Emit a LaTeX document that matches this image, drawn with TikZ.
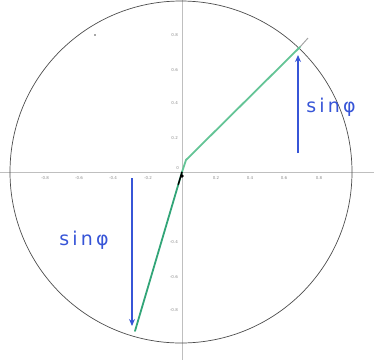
\documentclass[tikz,border=0pt]{standalone}
\usetikzlibrary{arrows.meta,calc}
\usepackage{fontspec}
\setsansfont{DejaVu Sans}
\definecolor{mint}{RGB}{100,196,150}
\definecolor{mintdark}{RGB}{50,165,120}
\definecolor{pen}{RGB}{55,85,215}
\begin{document}
\begin{tikzpicture}[x=1pt,y=-1pt,
  axis/.style={draw=black!25, line width=0.6pt},
  tick/.style={text=black!45, font=\fontsize{4}{4}\selectfont\sffamily, inner sep=0pt},
  vec/.style={draw=mint, line width=1.8pt, line cap=round},
  hand/.style={draw=pen, line width=1.3pt, -{Stealth[length=7pt,width=6pt]}},
  handtext/.style={text=pen, font=\fontsize{19}{19}\selectfont\sffamily, inner sep=0pt}]
\useasboundingbox (0,0) rectangle (374,360);
\coordinate (O) at (182,172);
\coordinate (xl) at (0,172); \coordinate (xr) at (374,172);
\coordinate (yt) at (182,0); \coordinate (yb) at (182,360);
\draw[axis] (xl) -- (xr);
\draw[axis] (yt) -- (yb);
% circle
\draw[black!70, line width=0.7pt] (181,172) circle[radius=171pt];
% tick labels
\foreach \x/\l in {45/-0.8,79/-0.6,113/-0.4,148/-0.2,216/0.2,250/0.4,284/0.6,319/0.8}
  \node[tick] (tx\x) at (\x,178) {\l};
\foreach \y/\l in {35/0.8,70/0.6,103/0.4,138/0.2,242/-0.4,277/-0.6,310/-0.8}
  \node[tick, anchor=east] (ty\y) at (178,\y) {\l};
\node[tick, anchor=east] (t0) at (179,168) {0};
% vectors
\coordinate (K) at (186,160);
\coordinate (P) at (300,47);
\coordinate (Pe) at (308,38);
\coordinate (Q) at (135,331);
\draw[black!35, line width=1pt] (P) -- (Pe);
\draw[vec] (O) -- (K) -- (P);
\draw[vec, draw=mintdark] (O) -- (Q);
\draw[black, line width=1.4pt] (O) -- ($(O)!0.08!(Q)$);
\fill[black] (182,176) circle[radius=1.8pt];
\fill[black!70] (95,35) circle[radius=0.9pt];
% hand-drawn arrows
\coordinate (a1) at (298,153); \coordinate (a2) at (298,55);
\coordinate (b1) at (132,178); \coordinate (b2) at (132,326);
\draw[hand] (a1) -- (a2);
\draw[hand] (b1) -- (b2);
\node[handtext] (s1) at (331,107) {s\,i\,n\,φ};
\node[handtext] (s2) at (84,240) {s\,i\,n\,φ};
\end{tikzpicture}
\end{document}
